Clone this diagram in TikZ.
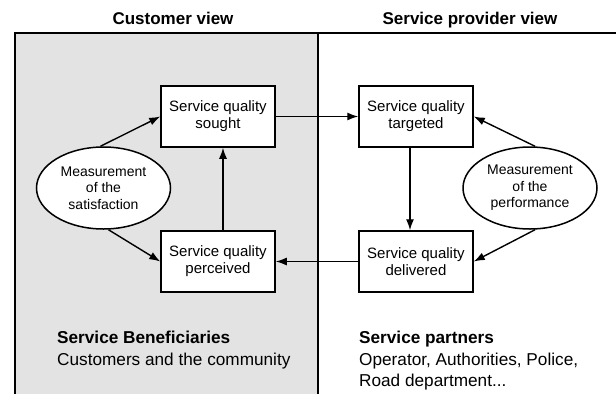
\documentclass[tikz,border=0pt]{standalone}
\usepackage{fontspec}
\setmainfont{Liberation Sans}
\usetikzlibrary{arrows.meta,shapes.geometric}

\tikzset{
  panelline/.style={line width=1.8pt},
  qualitybox/.style={draw, line width=1.5pt, fill=white, minimum width=114pt,
    minimum height=61pt, inner sep=0pt, align=center,
    font=\fontsize{15}{17}\selectfont},
  measure/.style={draw, ellipse, line width=1.5pt, fill=white, minimum width=134pt,
    minimum height=82pt, inner sep=0pt, align=center,
    font=\fontsize{14}{16.5}\selectfont},
  flow/.style={line width=1.4pt, -{Latex[length=11pt,width=8pt]}},
  viewtitle/.style={anchor=base, font=\fontsize{17}{20}\selectfont\bfseries},
  partytitle/.style={anchor=base west, inner sep=0pt, font=\fontsize{17.2}{20}\selectfont\bfseries},
  partytext/.style={anchor=base west, inner sep=0pt, font=\fontsize{17.2}{20}\selectfont}
}
\definecolor{panelgray}{gray}{0.89}

\begin{document}
\begin{tikzpicture}[x=1pt,y=-1pt]
  \useasboundingbox (0,0) rectangle (616,394);

  % customer side panel
  \fill[panelgray] (15,33) rectangle (318,394);
  \draw[panelline] (14,33) -- (616,33);
  \draw[panelline] (15,33) -- (15,394);
  \draw[panelline] (318,33) -- (318,394);

  % column headings
  \node[viewtitle] (custview) at (173,24) {Customer view};
  \node[viewtitle] (provview) at (470,24) {Service provider view};

  % quality boxes
  \node[qualitybox] (sought)    at (218,116.5) {Service quality\\sought};
  \node[qualitybox] (targeted)  at (416,116.5) {Service quality\\targeted};
  \node[qualitybox] (perceived) at (218,261.5) {Service quality\\perceived};
  \node[qualitybox] (delivered) at (416,261.5) {Service quality\\delivered};

  % measurement ellipses
  \node[measure] (satisf) at (103.5,188) {Measurement\\of the\\satisfaction};
  \node[measure] (perform) at (530,188) {Measurement\\of the\\performance};

  % quality loop
  \draw[flow] (sought.east) -- (targeted.west);
  \draw[flow] ([xshift=-6pt]targeted.south) -- ([xshift=-6pt]delivered.north);
  \draw[flow] (delivered.west) -- (perceived.east);
  \draw[flow] ([xshift=5pt]perceived.north) -- ([xshift=5pt]sought.south);

  % measurements
  \draw[flow] ([xshift=-3pt]satisf.north) -- (sought.west);
  \draw[flow] ([xshift=5pt]satisf.south) -- (perceived.west);
  \draw[flow] ([xshift=5pt]perform.north) -- (targeted.east);
  \draw[flow] ([xshift=5pt]perform.south) -- (delivered.east);

  % parties
  \node[partytitle] (benefhead) at (57,343) {Service Beneficiaries};
  \node[partytext]  (benefbody) at (57,365) {Customers and the community};
  \node[partytitle] (partnhead) at (359,343) {Service partners};
  \node[partytext]  (partnbody) at (359,365) {Operator, Authorities, Police,};
  \node[partytext]  (partnmore) at (359,386) {Road department...};
\end{tikzpicture}
\end{document}
